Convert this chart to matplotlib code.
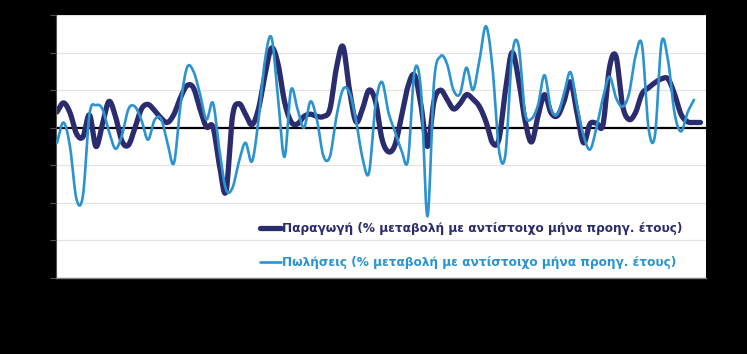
import numpy as np
import matplotlib
matplotlib.use("Agg")
import matplotlib.pyplot as plt
from matplotlib.lines import Line2D

# ---- data (% change vs same month of previous year) ----
production = [2.1, 3.3, 2.0, -0.8, -1.2, 1.7, -2.5, 0.5, 3.5, 1.5,
              -1.8, -2.3, 0.0, 2.5, 3.1, 2.3, 1.3, 0.7, 1.8, 4.0,
              5.6, 5.3, 2.5, 0.1, 0.1, -5.0, -8.5, 1.5, 3.2, 1.8,
              0.4, 2.5, 7.0, 10.6, 8.5, 3.5, 0.8, 0.5, 1.5, 1.8,
              1.5, 1.5, 2.5, 8.0, 10.8, 5.0, 0.8, 2.5, 5.0, 3.5,
              -1.5, -3.2, -2.3, 1.5, 5.5, 7.0, 3.0, -2.5, 3.5, 5.0,
              3.8, 2.5, 3.2, 4.4, 3.8, 2.8, 0.8, -2.0, -1.5, 5.0,
              10.0, 6.5, 1.0, -1.9, 1.5, 4.4, 2.0, 1.6, 3.5, 6.1,
              2.0, -2.0, 0.5, 0.6, 0.4, 8.0, 9.5, 3.0, 1.1, 2.0,
              4.5, 5.3, 6.0, 6.5, 6.5, 4.5, 1.8, 0.8, 0.7, 0.7]

sales = [-2.0, 0.7, -2.5, -9.5, -9.0, 1.8, 3.0, 2.5, -0.5, -2.8,
         -1.0, 2.5, 2.8, 1.0, -1.6, 1.0, 1.2, -2.0, -4.7, 3.0,
         8.0, 7.5, 4.5, 1.1, 3.3, -3.0, -8.2, -8.0, -4.5, -2.0,
         -4.5, 1.0, 9.0, 12.0, 4.0, -3.9, 5.0, 2.5, 0.0, 3.5,
         1.0, -3.8, -3.8, 1.5, 5.1, 4.7, 1.0, -4.0, -6.0, 3.0,
         6.1, 2.0, -0.5, -3.0, -4.3, 7.5, 5.0, -11.8, 6.0, 9.5,
         8.5, 5.0, 4.5, 8.0, 5.0, 9.0, 13.5, 8.0, -3.0, -3.5,
         9.5, 11.0, 2.0, 1.2, 3.0, 7.0, 2.5, 1.8, 4.5, 7.4,
         3.0, -1.0, -2.9, 0.0, 4.0, 6.8, 4.0, 2.8, 4.5, 9.5,
         11.0, 0.0, -1.0, 11.3, 9.0, 2.0, -0.5, 2.0, 3.7]

label_prod = "Παραγωγή (% μεταβολή με αντίστοιχο μήνα προηγ. έτους)"
label_sales = "Πωλήσεις (% μεταβολή με αντίστοιχο μήνα προηγ. έτους)"
y_ticks = [-20, -15, -10, -5, 0, 5, 10, 15]

c_prod = "#2B2C6E"
c_sales = "#2B93CF"


def smooth(vals, n_sub=12):
    """Catmull-Rom smoothing similar to Excel's smoothed lines."""
    p = np.asarray(vals, dtype=float)
    x = np.arange(len(p), dtype=float)
    pp = np.concatenate([[2 * p[0] - p[1]], p, [2 * p[-1] - p[-2]]])
    xs, ys = [], []
    t = np.linspace(0, 1, n_sub, endpoint=False)
    for i in range(len(p) - 1):
        p0, p1, p2, p3 = pp[i], pp[i + 1], pp[i + 2], pp[i + 3]
        y = 0.5 * ((2 * p1) + (-p0 + p2) * t + (2 * p0 - 5 * p1 + 4 * p2 - p3) * t ** 2
                   + (-p0 + 3 * p1 - 3 * p2 + p3) * t ** 3)
        xs.append(x[i] + t)
        ys.append(y)
    xs.append([x[-1]])
    ys.append([p[-1]])
    return np.concatenate(xs), np.concatenate(ys)


fig = plt.figure(figsize=(7.47, 3.54), dpi=100, facecolor="black")
W, H = 747, 354
ax = fig.add_axes([56 / W, (H - 278) / H, 650 / W, 263 / H])
ax.set_facecolor("white")

for yv in y_ticks:
    if yv != 0:
        ax.axhline(yv, color="#E3E3E3", lw=0.9, zorder=0)
ax.axhline(0, color="black", lw=1.6, zorder=1)

xp, yp = smooth(production)
xs_, ys_ = smooth(sales)
ax.plot(xp, yp, color=c_prod, lw=3.8, solid_capstyle="round", zorder=2)
ax.plot(xs_, ys_, color=c_sales, lw=1.9, solid_capstyle="round", zorder=3)

ax.set_xlim(-0.15, 99.85)
ax.set_ylim(-20, 15)
ax.set_yticks(y_ticks)
ax.set_yticklabels([str(v) for v in y_ticks], color="black")
ax.set_xticks([])
ax.tick_params(axis="y", length=4, color="#505050", width=0.8)
for s in ["top", "right"]:
    ax.spines[s].set_visible(False)
ax.spines["left"].set_color("#505050")
ax.spines["bottom"].set_color("#808080")
ax.spines["bottom"].set_linewidth(1.0)

handles = [Line2D([0], [0], color=c_prod, lw=3.8, solid_capstyle="round"),
           Line2D([0], [0], color=c_sales, lw=1.9, solid_capstyle="round")]
leg = ax.legend(handles, [label_prod, label_sales], loc="lower right",
                bbox_to_anchor=(1.0 - 12 / 650, -3 / 263), frameon=False,
                prop={"family": "DejaVu Sans", "weight": "bold", "size": 8.7},
                handlelength=1.7, handletextpad=0.05, labelspacing=1.75,
                borderaxespad=0.6)
for txt, col in zip(leg.get_texts(), [c_prod, c_sales]):
    txt.set_color(col)

fig.savefig("out.png", dpi=100, facecolor="black")
